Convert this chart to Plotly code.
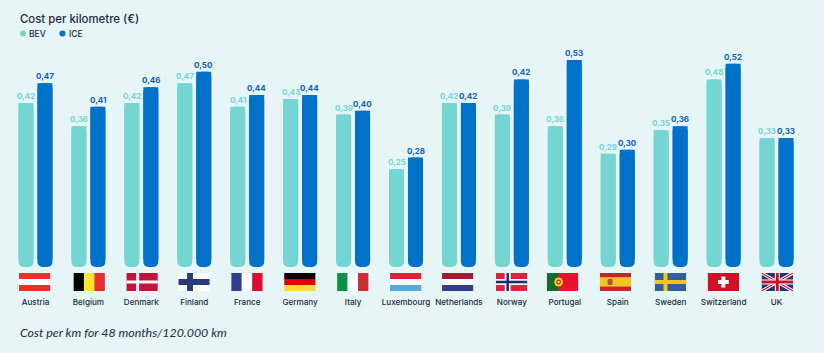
import base64
import plotly.graph_objects as go

countries = ["Austria","Belgium","Denmark","Finland","France","Germany","Italy","Luxembourg","Netherlands","Norway","Portugal","Spain","Sweden","Switzerland","UK"]
bev = [0.42,0.36,0.42,0.47,0.41,0.43,0.39,0.25,0.42,0.39,0.36,0.29,0.35,0.48,0.33]
# bar heights as drawn in the picture (Norway's ICE bar is drawn taller than its printed 0,42)
ice = [0.47,0.41,0.46,0.50,0.44,0.44,0.40,0.28,0.42,0.48,0.53,0.30,0.36,0.52,0.33]
ice_printed = [0.47,0.41,0.46,0.50,0.44,0.44,0.40,0.28,0.42,0.42,0.53,0.30,0.36,0.52,0.33]
flag_x = [18.5,73,126,178,231,284,337,390,442,496,547,600,655,708,762]

BG = "#e6f5f6"; TEAL = "#75d5d3"; BLUE = "#0071c9"; INK = "#1d2b45"
FONT = "Inter"

def hbands(*c):
    h = 18 / len(c)
    return "".join(f'<rect y="{i*h}" width="32" height="{h+.1}" fill="{x}"/>' for i, x in enumerate(c))
def vbands(*c):
    w = 32 / len(c)
    return "".join(f'<rect x="{i*w}" width="{w+.1}" height="18" fill="{x}"/>' for i, x in enumerate(c))
def cross(bg, c, inner=None):
    s = f'<rect width="32" height="18" fill="{bg}"/><rect x="9" width="6" height="18" fill="{c}"/><rect y="6" width="32" height="6" fill="{c}"/>'
    if inner:
        s += f'<rect x="10.7" width="2.6" height="18" fill="{inner}"/><rect y="7.7" width="32" height="2.6" fill="{inner}"/>'
    return s

flags = {
 "Austria": hbands("#ea3029","#ffffff","#ea3029"),
 "Belgium": vbands("#000000","#ffe52e","#ea2e2e"),
 "Denmark": '<rect width="32" height="18" fill="#c5123a"/><rect x="10" width="3" height="18" fill="#fff"/><rect y="7.5" width="32" height="3" fill="#fff"/>',
 "Finland": cross("#ffffff","#2b3a7c"),
 "France": vbands("#303c90","#ffffff","#dd0a35"),
 "Germany": hbands("#000000","#dd0000","#ffd83a"),
 "Italy": vbands("#0a9247","#ffffff","#ce2b37"),
 "Luxembourg": hbands("#e61e3c","#ffffff","#56a8dc"),
 "Netherlands": hbands("#a21a38","#ffffff","#30408c"),
 "Norway": cross("#e0203f","#ffffff","#232f6b"),
 "Portugal": '<rect width="32" height="18" fill="#e8112d"/><rect width="12" height="18" fill="#17692f"/><circle cx="12" cy="9" r="4.5" fill="#f6c915"/><circle cx="12" cy="9" r="2.4" fill="#d8312c"/><circle cx="12" cy="9" r="1.1" fill="#fff"/>',
 "Spain": hbands("#c1272d","#f7c320","#f7c320","#c1272d") + '<rect x="8" y="6" width="5" height="6" rx="1" fill="#b5502a"/>',
 "Sweden": '<rect width="32" height="18" fill="#2f5f9e"/><rect x="9" width="4" height="18" fill="#f5c518"/><rect y="7" width="32" height="4" fill="#f5c518"/>',
 "Switzerland": '<rect width="32" height="18" fill="#cf1126"/><rect x="14" y="3.5" width="4" height="11" fill="#fff"/><rect x="10.5" y="7" width="11" height="4" fill="#fff"/>',
 "UK": '<rect width="32" height="18" fill="#27346f"/><path d="M0 0L32 18M32 0L0 18" stroke="#fff" stroke-width="3.2"/><path d="M0 0L32 18M32 0L0 18" stroke="#c8102e" stroke-width="1.1"/><path d="M16 0V18M0 9H32" stroke="#fff" stroke-width="5"/><path d="M16 0V18M0 9H32" stroke="#c8102e" stroke-width="3"/>',
}

def uri(body):
    svg = f'<svg xmlns="http://www.w3.org/2000/svg" width="320" height="180" viewBox="0 0 32 18">{body}</svg>'
    return "data:image/svg+xml;base64," + base64.b64encode(svg.encode()).decode()

W, H = 824, 353
L, R, T, B = 8.5, 20.5, 40, 86
PW, PH = W - L - R, H - T - B
px = lambda x: (x - L) / PW          # page x -> plot-area fraction
py = lambda y: (H - y - B) / PH      # page y -> plot-area fraction
label = lambda v: f"{v:.2f}".replace(".", ",")
SQUARE_FROM = 0.02  # above this value the bar has square corners

fig = go.Figure()
for name, vals, col in (("BEV", bev, TEAL), ("ICE", ice, BLUE)):
    # full bar with rounded foot, then a square-cornered bar over its upper part
    fig.add_bar(x=countries, y=[-v for v in vals], base=vals, name=name, offsetgroup=name,
                marker=dict(color=col, cornerradius=5, line=dict(width=0)), showlegend=False, hoverinfo="skip")
    fig.add_bar(x=countries, y=[v - SQUARE_FROM for v in vals], base=SQUARE_FROM, name=name, offsetgroup=name,
                marker=dict(color=col, line=dict(width=0)), showlegend=False, hoverinfo="skip")

ann = []
for c, b, i, p in zip(countries, bev, ice, ice_printed):
    ann.append(dict(x=c, y=b, text=label(b), xshift=-9.5, yanchor="bottom", showarrow=False, font=dict(family=FONT, size=8, weight=700, color=TEAL)))
    ann.append(dict(x=c, y=i, text=label(p), xshift=9.5, yanchor="bottom", showarrow=False, font=dict(family=FONT, size=8, weight=700, color="#0a62c4")))
def page_text(x, y, text, font):
    ann.append(dict(x=px(x), y=py(y), xref="paper", yref="paper", xanchor="left", yanchor="middle", showarrow=False, text=text, font=font))
page_text(17.5, 19, "Cost per kilometre (€)", dict(family=FONT, size=11.4, weight=500, color=INK))
page_text(27, 33.5, "BEV", dict(family=FONT, size=8.5, weight=500, color=INK))
page_text(67, 33.5, "ICE", dict(family=FONT, size=8.5, weight=500, color=INK))
page_text(17.5, 332, "<i>Cost per km for 48 months/120.000 km</i>", dict(family="Lato", size=12.4, color=INK))

shapes = []
for cx, col in ((22.5, TEAL), (62, BLUE)):
    shapes.append(dict(type="circle", xref="paper", yref="paper", x0=px(cx - 3), x1=px(cx + 3), y0=py(36.5), y1=py(30.5), fillcolor=col, line=dict(width=0)))

imgs = []
for c, x in zip(countries, flag_x):
    imgs.append(dict(source=uri(flags[c]), xref="paper", yref="paper", x=px(x), y=py(273),
                     sizex=31.5 / PW, sizey=18 / PH, xanchor="left", yanchor="top", sizing="stretch", layer="above"))

fig.update_layout(
    width=W, height=H, margin=dict(l=L, r=R, t=T, b=B, autoexpand=False),
    paper_bgcolor=BG, plot_bgcolor=BG, barmode="group", bargap=0.283, bargroupgap=0.21,
    annotations=ann, images=imgs, shapes=shapes, showlegend=False,
    xaxis=dict(type="category", showgrid=False, zeroline=False, showline=False, ticks="", ticklabelstandoff=29, tickangle=0,
               tickfont=dict(family=FONT, size=8.1, weight=500, color=INK), fixedrange=True),
    yaxis=dict(range=[0, 0.581], visible=False, fixedrange=True),
)
fig.write_html("out.html", config=dict(displayModeBar=False), post_script="document.body.style.margin='0';")
